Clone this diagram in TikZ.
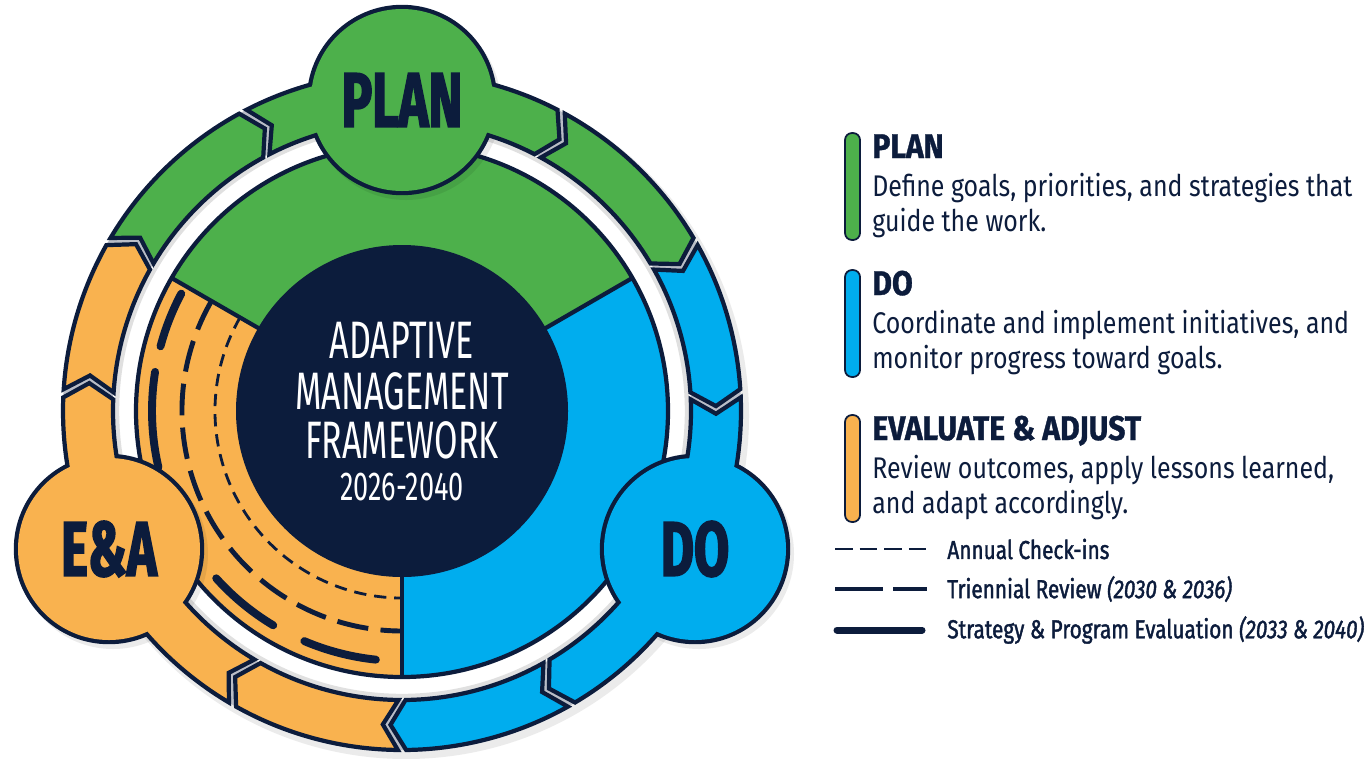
\documentclass[tikz,border=0pt]{standalone}
\usepackage{fontspec}
\setmainfont{Fira Sans}[FakeStretch=0.835]
\newfontfamily\centrefont{Fira Sans}[FakeStretch=0.645]
\newfontfamily\yearfont{Fira Sans}[FakeStretch=0.67]
\newfontfamily\headfont{Fira Sans}[FakeStretch=0.88, FakeBold=1]
\newfontfamily\badgefont{Fira Sans}[FakeStretch=0.66, FakeBold=2]
\newfontfamily\keyfont{Fira Sans}[FakeStretch=0.8, FakeBold=1.5]
\usetikzlibrary{positioning, calc}

\definecolor{navy}{HTML}{0C1C3C}
\definecolor{plangreen}{HTML}{4DB04B}
\definecolor{doblue}{HTML}{00ADEE}
\definecolor{eaorange}{HTML}{F9B24F}
\definecolor{gapgrey}{HTML}{B9BDC7}

\tikzset{
  rim/.style={draw=navy, line width=2.4pt},
  badgetext/.style={font=\badgefont\bfseries\fontsize{44}{44}\selectfont, text=navy},
  centretext/.style={font=\centrefont\fontsize{30}{30}\selectfont, text=white, anchor=base},
  keyhead/.style={font=\headfont\bfseries\fontsize{19.5}{20}\selectfont, text=navy, anchor=base west, inner sep=0pt},
  keybody/.style={font=\fontsize{17}{20}\selectfont, text=navy, anchor=base west, inner sep=0pt},
  keybar/.style={draw=navy, line width=1pt, rounded corners=4pt},
  keyline/.style={font=\keyfont\fontsize{14.8}{16}\selectfont, text=navy, anchor=west, inner sep=0pt},
}

% one arrow piece of the outer band, from #1 clockwise to #2
\newcommand\bandpiece[3]{%
  \filldraw[rim, fill=#3] (#1-0.7:339) arc[start angle=#1-0.7, end angle=#2+0.7, radius=339]
    -- (#2+0.7-2.8:314) -- (#2+0.7:289)
    arc[start angle=#2+0.7, end angle=#1-0.7, radius=289]
    -- (#1-0.7-2.8:314) -- cycle;}

\begin{document}
\begin{tikzpicture}[x=0.02cm, y=-0.02cm]
\useasboundingbox (0,0) rectangle (1371,758);
\coordinate (C) at (402,411);
\coordinate (planC) at (402,100);
\coordinate (doC) at (695,549);
\coordinate (eaC) at (109,549);

\begin{scope}[shift={(C)}, yscale=-1]
  \fill[black, opacity=0.08] (4,-5) circle[radius=343];
  \fill[gapgrey, even odd rule] (0,0) circle[radius=339] (0,0) circle[radius=289];
  \fill[white] (0,0) circle[radius=289];
  \draw[black!12, line width=2.5pt] (0,0) circle[radius=285];
  \fill[plangreen] (0,0) -- (30:266) arc[start angle=30, end angle=150, radius=266] -- cycle;
  \fill[doblue] (0,0) -- (-90:266) arc[start angle=-90, end angle=30, radius=266] -- cycle;
  \fill[eaorange] (0,0) -- (150:266) arc[start angle=150, end angle=270, radius=266] -- cycle;
  \foreach \a in {30,150,270}
    \draw[rim] (\a:160) -- (\a:266);
  \draw[rim] (0,0) circle[radius=266];
  \fill[navy] (0,0) circle[radius=166];
  \draw[navy, line width=1.6pt, dash pattern=on 7pt off 4.5pt] (150:187) arc[start angle=150, end angle=270, radius=187];
  \draw[navy, line width=2.8pt, dash pattern=on 18pt off 7pt] (150:220) arc[start angle=150, end angle=270, radius=220];
  \foreach \s/\e in {152/165, 171/193, 222/239, 247/264}
    \draw[navy, line width=4.5pt, line cap=round] (\s:250) arc[start angle=\s, end angle=\e, radius=250];
\end{scope}

\foreach \p/\c in {planC/plangreen, doC/doblue, eaC/eaorange}{
  \fill[black, opacity=0.08] ($(\p)+(4,5)$) circle[radius=95];
  \filldraw[draw=navy, line width=4.8pt, fill=\c] (\p) circle[radius=91];
}

\begin{scope}[shift={(C)}, yscale=-1]
  \foreach \a/\b/\c in {90/62/plangreen, 62/30/plangreen, 30/3/doblue, 3/-25/doblue,
      -25/-60/doblue, -60/-90/doblue, -90/-120/eaorange, -120/-155/eaorange,
      -155/-183/eaorange, -183/-210/eaorange, -210/-242/plangreen, -242/-270/plangreen}
    \bandpiece{\a}{\b}{\c};
\end{scope}

\foreach \p/\c in {planC/plangreen, doC/doblue, eaC/eaorange}
  \fill[\c] (\p) circle[radius=91];

\node[badgetext] (planLabel) at (planC) {PLAN};
\node[badgetext] (doLabel) at (doC) {DO};
\node[badgetext] (eaLabel) at (eaC) {E\&A};

\node[centretext] (adaptive) at (402,358) {ADAPTIVE};
\node[centretext] (management) at (402,409) {MANAGEMENT};
\node[centretext] (framework) at (402,458) {FRAMEWORK};
\node[centretext, font=\yearfont\fontsize{23}{23}\selectfont] (years) at (402,500) {2026-2040};

\filldraw[keybar, fill=plangreen] (845,133) rectangle (860,240);
\node[keyhead] (planHead) at (872,158) {PLAN};
\node[keybody] (planBody1) at (872,196) {Define goals, priorities, and strategies that};
\node[keybody] (planBody2) at (872,231) {guide the work.};

\filldraw[keybar, fill=doblue] (845,270) rectangle (860,377);
\node[keyhead] (doHead) at (872,295) {DO};
\node[keybody] (doBody1) at (872,333) {Coordinate and implement initiatives, and};
\node[keybody] (doBody2) at (872,368) {monitor progress toward goals.};

\filldraw[keybar, fill=eaorange] (845,415) rectangle (860,522);
\node[keyhead] (eaHead) at (872,440) {EVALUATE \& ADJUST};
\node[keybody] (eaBody1) at (872,478) {Review outcomes, apply lessons learned,};
\node[keybody] (eaBody2) at (872,513) {and adapt accordingly.};

\node[keyline] (annual) at (947,549) {Annual Check-ins};
\node[keyline] (triennial) at (947,589) {Triennial Review \textit{(2030 \& 2036)}};
\node[keyline] (strategy) at (947,630) {Strategy \& Program Evaluation \textit{(2033 \& 2040)}};
\draw[navy, line width=1.5pt, dash pattern=on 10pt off 4pt] (835,549) -- (927,549);
\draw[navy, line width=2.4pt] (835,589) -- (883,589) (893,589) -- (927,589);
\draw[navy, line width=4pt, line cap=round] (837,630) -- (922,630);
\end{tikzpicture}
\end{document}
